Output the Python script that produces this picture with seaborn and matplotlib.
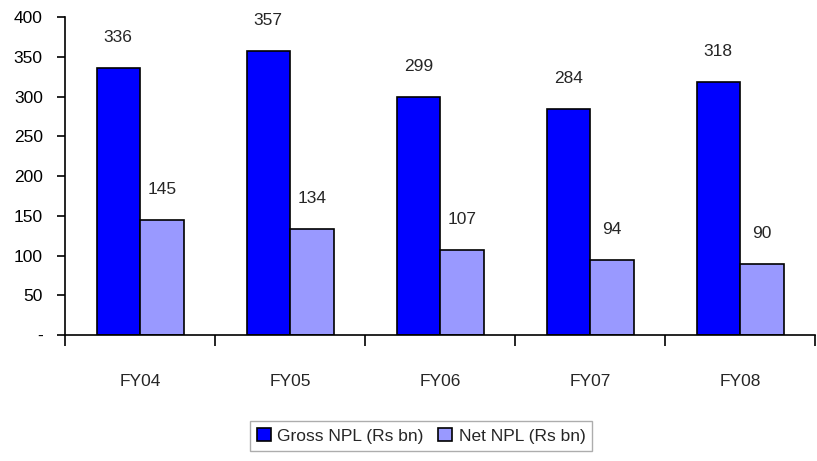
import matplotlib
matplotlib.use("Agg")
import matplotlib.pyplot as plt
import seaborn as sns
import pandas as pd
from matplotlib.ticker import FixedLocator, FuncFormatter

years = ["FY04", "FY05", "FY06", "FY07", "FY08"]
gross_npl = [336, 357, 299, 284, 318]
net_npl = [145, 134, 107, 94, 90]
series = ["Gross NPL (Rs bn)", "Net NPL (Rs bn)"]
colors = ["#0000FF", "#9999FF"]

df = pd.DataFrame({
    "year": years * 2,
    "value": gross_npl + net_npl,
    "series": [series[0]] * len(years) + [series[1]] * len(years),
})

sns.set_style("white")
plt.rcParams["font.family"] = ["Liberation Sans Narrow", "Liberation Sans", "DejaVu Sans"]

fig = plt.figure(figsize=(8.17, 4.61), dpi=100)
ax = fig.add_axes([0.0796, 0.273, 0.918, 0.690])

sns.barplot(data=df, x="year", y="value", hue="series", palette=colors,
            saturation=1, width=0.58, edgecolor="black", linewidth=1.2,
            ax=ax, legend=True)

for cont in ax.containers:
    for bar in cont:
        h = bar.get_height()
        ax.annotate(f"{h:.0f}", (bar.get_x() + bar.get_width() / 2, h),
                    xytext=(0, 22), textcoords="offset points",
                    ha="center", va="center", fontsize=12.5)

ax.set_xlim(-0.5, 4.5)
ax.set_ylim(0, 400)
ax.set_yticks(range(0, 401, 50))
ax.yaxis.set_major_formatter(FuncFormatter(lambda v, p: "-" if v == 0 else f"{v:.0f}"))
ax.set_xlabel("")
ax.set_ylabel("")

for s in ["top", "right"]:
    ax.spines[s].set_visible(False)
for s in ["left", "bottom"]:
    ax.spines[s].set_color("black")
    ax.spines[s].set_linewidth(1.2)

ax.tick_params(axis="y", which="major", direction="out", length=6, width=1.2,
               left=True, labelsize=12.5, pad=10, colors="black")
ax.tick_params(axis="x", which="major", length=0, labelsize=12.5, pad=28)
ax.xaxis.set_minor_locator(FixedLocator([i - 0.5 for i in range(len(years) + 1)]))
ax.tick_params(axis="x", which="minor", direction="out", length=8, width=1.2,
               bottom=True, color="black")

handles, labels = ax.get_legend_handles_labels()
ax.legend(handles, labels, loc="center", bbox_to_anchor=(421 / 817, 1 - 436 / 461),
          bbox_transform=fig.transFigure, ncol=2, frameon=True, fancybox=False,
          edgecolor="#999999", fontsize=12.5, handlelength=0.8, handleheight=0.8,
          handletextpad=0.4, columnspacing=0.8, borderpad=0.4)
ax.get_legend().get_frame().set_linewidth(1.0)

fig.savefig("out.png", dpi=100)
